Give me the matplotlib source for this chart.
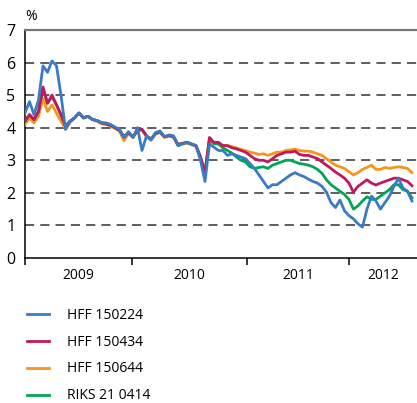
import numpy as np
import matplotlib
matplotlib.use("Agg")
import matplotlib.pyplot as plt

plt.rcParams['font.family'] = ['Open Sans', 'DejaVu Sans']

# half-month observations starting January 2009
hff_150224 = [4.45, 4.8, 4.4, 4.85, 5.9, 5.7, 6.05, 5.9, 5.0, 3.95,
              4.2, 4.3, 4.45, 4.3, 4.35, 4.25, 4.22, 4.15, 4.15, 4.1,
              4.02, 3.95, 3.7, 3.88, 3.7, 4.0, 3.3, 3.75, 3.62, 3.85,
              3.9, 3.72, 3.78, 3.75, 3.45, 3.5, 3.55, 3.5, 3.45, 3.0,
              2.35, 3.5, 3.4, 3.3, 3.3, 3.15, 3.2, 3.15, 3.1, 3.05,
              2.9, 2.75, 2.55, 2.35, 2.15, 2.25, 2.25, 2.35, 2.45, 2.55,
              2.62, 2.55, 2.5, 2.42, 2.35, 2.3, 2.2, 2.02, 1.7, 1.55,
              1.78, 1.45, 1.3, 1.2, 1.05, 0.95, 1.5, 1.9, 1.75, 1.5,
              1.7, 1.9, 2.2, 2.45, 2.15, 2.05, 1.75]
hff_150434 = [4.2, 4.4, 4.25, 4.5, 5.25, 4.75, 5.0, 4.7, 4.4, 4.05,
              4.2, 4.3, 4.45, 4.3, 4.35, 4.25, 4.22, 4.15, 4.12, 4.08,
              4.0, 3.92, 3.72, 3.85, 3.72, 3.92, 3.95, 3.75, 3.65, 3.82,
              3.88, 3.72, 3.76, 3.73, 3.48, 3.52, 3.55, 3.5, 3.45, 3.1,
              2.6, 3.7, 3.55, 3.55, 3.45, 3.45, 3.38, 3.35, 3.3, 3.25,
              3.15, 3.05, 3.0, 3.0, 2.95, 3.05, 3.15, 3.2, 3.25, 3.25,
              3.28, 3.18, 3.15, 3.15, 3.1, 3.05, 2.95, 2.85, 2.75, 2.64,
              2.55, 2.45, 2.3, 2.02, 2.2, 2.3, 2.4, 2.3, 2.24, 2.3,
              2.35, 2.4, 2.45, 2.45, 2.4, 2.35, 2.22]
hff_150644 = [4.1, 4.3, 4.15, 4.35, 4.9, 4.5, 4.7, 4.45, 4.2, 3.95,
              4.15, 4.3, 4.45, 4.32, 4.35, 4.25, 4.2, 4.12, 4.1, 4.05,
              3.98, 3.9, 3.6, 3.82, 3.7, 3.9, 3.93, 3.72, 3.62, 3.8,
              3.85, 3.7, 3.74, 3.7, 3.45, 3.5, 3.52, 3.48, 3.42, 3.1,
              2.65, 3.6, 3.5, 3.5, 3.45, 3.45, 3.42, 3.38, 3.33, 3.3,
              3.25, 3.22, 3.18, 3.2, 3.15, 3.2, 3.25, 3.25, 3.3, 3.32,
              3.34, 3.3, 3.28, 3.28, 3.25, 3.2, 3.15, 3.05, 2.95, 2.85,
              2.8, 2.75, 2.65, 2.55, 2.62, 2.72, 2.78, 2.85, 2.72, 2.72,
              2.78, 2.75, 2.78, 2.8, 2.78, 2.75, 2.62]
riks_210414 = [4.2, 4.4, 4.25, 4.5, 5.2, 4.75, 4.95, 4.7, 4.4, 4.05,
               4.2, 4.3, 4.45, 4.3, 4.35, 4.25, 4.22, 4.15, 4.12, 4.08,
               4.0, 3.92, 3.72, 3.85, 3.72, 3.92, 3.95, 3.75, 3.65, 3.82,
               3.88, 3.72, 3.76, 3.73, 3.48, 3.52, 3.55, 3.5, 3.45, 3.1,
               2.6, 3.68, 3.52, 3.5, 3.38, 3.3, 3.22, 3.1, 3.0, 2.95,
               2.8, 2.75, 2.78, 2.8, 2.75, 2.85, 2.9, 2.95, 3.0, 3.0,
               2.95, 2.9, 2.88, 2.85, 2.8, 2.72, 2.6, 2.4, 2.25, 2.15,
               2.05, 1.95, 1.8, 1.5, 1.6, 1.75, 1.88, 1.8, 1.8, 1.9,
               2.0, 2.1, 2.25, 2.25, 2.1, 2.05, 1.85]

years = ['2009', '2010', '2011', '2012']
year_starts = [2009.0, 2009.99, 2011.06, 2012.0]
year_end = 2012.63

x = 2009.0 + np.arange(len(hff_150224)) / 24.0

fig = plt.figure(figsize=(4.17, 4.03), dpi=100)
ax = fig.add_axes([25 / 417, 145 / 403, 392 / 417, 228 / 403])

ax.plot(x, hff_150644, color='#f7941d', lw=2.0, label='HFF 150644', zorder=3)
ax.plot(x, riks_210414, color='#00a651', lw=2.0, label='RIKS 21 0414', zorder=3)
ax.plot(x, hff_150434, color='#c2185b', lw=2.0, label='HFF 150434', zorder=4)
ax.plot(x, hff_150224, color='#3b7ac4', lw=2.0, label='HFF 150224', zorder=5)

ax.set_xlim(year_starts[0], year_end)
ax.set_ylim(0, 7)
ax.set_yticks(range(8))
for v in range(1, 7):
    ax.axhline(v, color='#333333', lw=1.1, dashes=(6, 4), zorder=1)

ax.spines['right'].set_visible(False)
ax.spines['top'].set_color('#777777')
ax.spines['top'].set_linewidth(1.6)
ax.spines['left'].set_linewidth(1.1)
ax.spines['bottom'].set_linewidth(1.1)

ax.set_xticks(year_starts)
ax.set_xticklabels([])
ax.tick_params(axis='x', which='major', length=5, width=1.1, direction='out')
mids = [(a + b) / 2 for a, b in zip(year_starts, year_starts[1:] + [year_end])]
ax.set_xticks(mids, minor=True)
ax.set_xticklabels(years, minor=True, fontsize=10)
ax.tick_params(axis='x', which='minor', length=0, pad=7)
ax.tick_params(axis='y', length=0, pad=7, labelsize=11.5)

fig.text(25 / 417, 1 - 17 / 403, '%', fontsize=10, va='center', ha='left')

handles, labels = ax.get_legend_handles_labels()
order = [3, 2, 0, 1]
fig.legend([handles[i] for i in order], [labels[i] for i in order],
           loc='upper left', bbox_to_anchor=(21 / 417, 1 - 302 / 403),
           frameon=False, fontsize=10, handlelength=1.6, handletextpad=1.3,
           labelspacing=0.86, borderaxespad=0.0)

fig.savefig('out.png', dpi=100)
